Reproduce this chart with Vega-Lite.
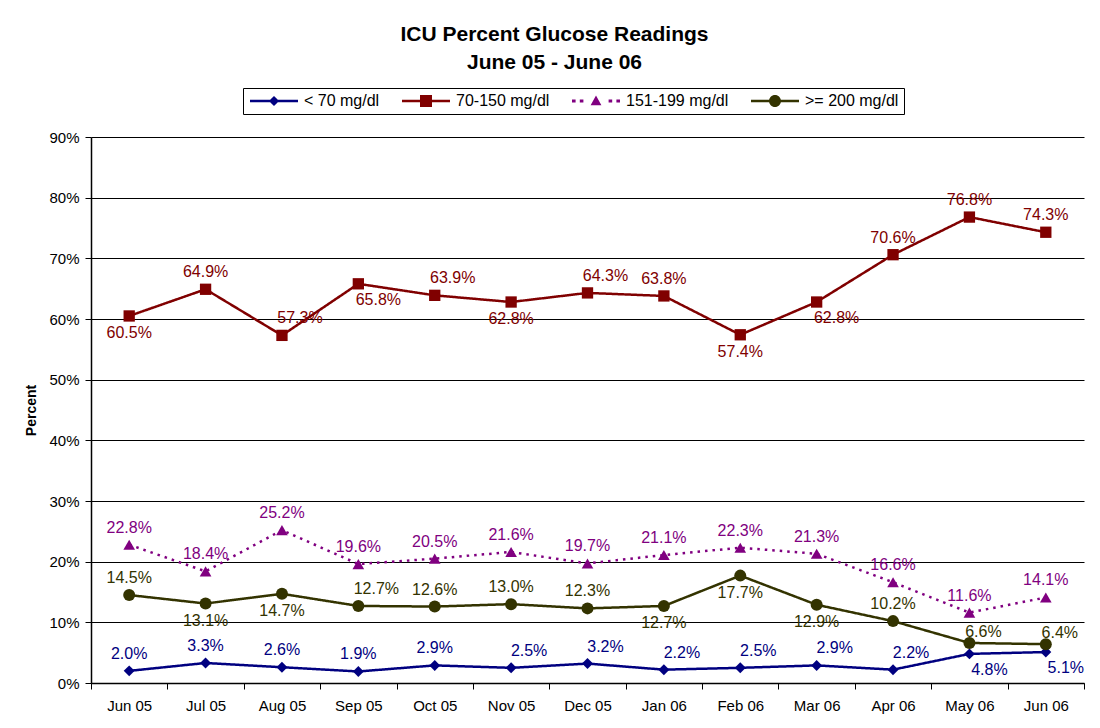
{
  "$schema": "https://vega.github.io/schema/vega-lite/v6.json",
  "width": 993,
  "height": 546,
  "autosize": {"type": "none"},
  "padding": {"left": 91, "top": 137, "right": 16, "bottom": 45},
  "background": "white",
  "title": {
    "text": ["ICU Percent Glucose Readings", "June 05 - June 06"],
    "font": "Liberation Sans",
    "fontSize": 21,
    "fontWeight": "bold",
    "lineHeight": 28,
    "anchor": "middle",
    "offset": 15,
    "dx": -33,
    "color": "black"
  },
  "config": {
    "view": {"stroke": null},
    "font": "Liberation Sans",
    "axis": {"labelFont": "Liberation Sans", "titleFont": "Liberation Sans"},
    "legend": {"labelFont": "Liberation Sans"}
  },
  "resolve": {
    "scale": {"shape": "independent"},
    "legend": {"color": "independent", "shape": "independent"}
  },
  "data": {
    "values": [
      {"month": "Jun 05", "series": "< 70 mg/dl", "value": 0.020},
      {"month": "Jul 05", "series": "< 70 mg/dl", "value": 0.033},
      {"month": "Aug 05", "series": "< 70 mg/dl", "value": 0.026},
      {"month": "Sep 05", "series": "< 70 mg/dl", "value": 0.019},
      {"month": "Oct 05", "series": "< 70 mg/dl", "value": 0.029},
      {"month": "Nov 05", "series": "< 70 mg/dl", "value": 0.025},
      {"month": "Dec 05", "series": "< 70 mg/dl", "value": 0.032},
      {"month": "Jan 06", "series": "< 70 mg/dl", "value": 0.022},
      {"month": "Feb 06", "series": "< 70 mg/dl", "value": 0.025},
      {"month": "Mar 06", "series": "< 70 mg/dl", "value": 0.029},
      {"month": "Apr 06", "series": "< 70 mg/dl", "value": 0.022},
      {"month": "May 06", "series": "< 70 mg/dl", "value": 0.048},
      {"month": "Jun 06", "series": "< 70 mg/dl", "value": 0.051},
      {"month": "Jun 05", "series": "70-150 mg/dl", "value": 0.605},
      {"month": "Jul 05", "series": "70-150 mg/dl", "value": 0.649},
      {"month": "Aug 05", "series": "70-150 mg/dl", "value": 0.573},
      {"month": "Sep 05", "series": "70-150 mg/dl", "value": 0.658},
      {"month": "Oct 05", "series": "70-150 mg/dl", "value": 0.639},
      {"month": "Nov 05", "series": "70-150 mg/dl", "value": 0.628},
      {"month": "Dec 05", "series": "70-150 mg/dl", "value": 0.643},
      {"month": "Jan 06", "series": "70-150 mg/dl", "value": 0.638},
      {"month": "Feb 06", "series": "70-150 mg/dl", "value": 0.574},
      {"month": "Mar 06", "series": "70-150 mg/dl", "value": 0.628},
      {"month": "Apr 06", "series": "70-150 mg/dl", "value": 0.706},
      {"month": "May 06", "series": "70-150 mg/dl", "value": 0.768},
      {"month": "Jun 06", "series": "70-150 mg/dl", "value": 0.743},
      {"month": "Jun 05", "series": "151-199 mg/dl", "value": 0.228},
      {"month": "Jul 05", "series": "151-199 mg/dl", "value": 0.184},
      {"month": "Aug 05", "series": "151-199 mg/dl", "value": 0.252},
      {"month": "Sep 05", "series": "151-199 mg/dl", "value": 0.196},
      {"month": "Oct 05", "series": "151-199 mg/dl", "value": 0.205},
      {"month": "Nov 05", "series": "151-199 mg/dl", "value": 0.216},
      {"month": "Dec 05", "series": "151-199 mg/dl", "value": 0.197},
      {"month": "Jan 06", "series": "151-199 mg/dl", "value": 0.211},
      {"month": "Feb 06", "series": "151-199 mg/dl", "value": 0.223},
      {"month": "Mar 06", "series": "151-199 mg/dl", "value": 0.213},
      {"month": "Apr 06", "series": "151-199 mg/dl", "value": 0.166},
      {"month": "May 06", "series": "151-199 mg/dl", "value": 0.116},
      {"month": "Jun 06", "series": "151-199 mg/dl", "value": 0.141},
      {"month": "Jun 05", "series": ">= 200 mg/dl", "value": 0.145},
      {"month": "Jul 05", "series": ">= 200 mg/dl", "value": 0.131},
      {"month": "Aug 05", "series": ">= 200 mg/dl", "value": 0.147},
      {"month": "Sep 05", "series": ">= 200 mg/dl", "value": 0.127},
      {"month": "Oct 05", "series": ">= 200 mg/dl", "value": 0.126},
      {"month": "Nov 05", "series": ">= 200 mg/dl", "value": 0.130},
      {"month": "Dec 05", "series": ">= 200 mg/dl", "value": 0.123},
      {"month": "Jan 06", "series": ">= 200 mg/dl", "value": 0.127},
      {"month": "Feb 06", "series": ">= 200 mg/dl", "value": 0.177},
      {"month": "Mar 06", "series": ">= 200 mg/dl", "value": 0.129},
      {"month": "Apr 06", "series": ">= 200 mg/dl", "value": 0.102},
      {"month": "May 06", "series": ">= 200 mg/dl", "value": 0.066},
      {"month": "Jun 06", "series": ">= 200 mg/dl", "value": 0.064}
    ]
  },
  "encoding": {
    "x": {
      "field": "month",
      "type": "ordinal",
      "sort": ["Jun 05", "Jul 05", "Aug 05", "Sep 05", "Oct 05", "Nov 05", "Dec 05", "Jan 06", "Feb 06", "Mar 06", "Apr 06", "May 06", "Jun 06"],
      "scale": {"type": "band", "paddingInner": 0, "paddingOuter": 0},
      "axis": {
        "title": null,
        "labelAngle": 0,
        "tickBand": "extent",
        "grid": false,
        "domainColor": "black",
        "domainWidth": 1.5,
        "tickColor": "black",
        "tickSize": 6,
        "labelFontSize": 15,
        "labelColor": "black",
        "labelPadding": 9
      }
    },
    "y": {
      "field": "value",
      "type": "quantitative",
      "scale": {"domain": [0, 0.9], "nice": false},
      "axis": {
        "title": "Percent",
        "format": ".0%",
        "values": [0, 0.1, 0.2, 0.3, 0.4, 0.5, 0.6, 0.7, 0.8, 0.9],
        "grid": true,
        "gridColor": "black",
        "gridOpacity": 1,
        "gridWidth": 1,
        "domainColor": "black",
        "domainWidth": 1.5,
        "tickColor": "black",
        "tickSize": 6,
        "labelFontSize": 15,
        "labelColor": "black",
        "labelPadding": 6,
        "titleFontSize": 14,
        "titleFontWeight": "bold",
        "titleColor": "black",
        "titlePadding": 10
      }
    },
    "color": {
      "field": "series",
      "type": "nominal",
      "scale": {
        "domain": ["< 70 mg/dl", "70-150 mg/dl", "151-199 mg/dl", ">= 200 mg/dl"],
        "range": ["#000080", "#800000", "#800080", "#333300"]
      },
      "legend": null
    }
  },
  "layer": [
    {
      "mark": {"type": "line", "strokeWidth": 2.5},
      "encoding": {
        "strokeDash": {
          "field": "series",
          "type": "nominal",
          "scale": {
            "domain": ["< 70 mg/dl", "70-150 mg/dl", "151-199 mg/dl", ">= 200 mg/dl"],
            "range": [[1, 0], [1, 0], [2.5, 5], [1, 0]]
          },
          "legend": null
        }
      }
    },
    {
      "mark": {"type": "point", "filled": true, "opacity": 1},
      "encoding": {
        "shape": {
          "field": "series",
          "type": "nominal",
          "scale": {
            "domain": ["< 70 mg/dl", "70-150 mg/dl", "151-199 mg/dl", ">= 200 mg/dl"],
            "range": ["diamond", "square", "triangle-up", "circle"]
          },
          "legend": null
        },
        "size": {
          "field": "series",
          "type": "nominal",
          "scale": {
            "domain": ["< 70 mg/dl", "70-150 mg/dl", "151-199 mg/dl", ">= 200 mg/dl"],
            "range": [120, 144, 80, 160]
          },
          "legend": null
        }
      }
    },
    {
      "mark": {"type": "point", "filled": true, "opacity": 0},
      "encoding": {
        "color": {
          "field": "series",
          "type": "nominal",
          "legend": {
            "orient": "none", "legendX": 152, "legendY": -49, "direction": "horizontal", "title": null,
            "strokeColor": "black", "fillColor": "white", "padding": 5,
            "symbolSize": 144, "symbolOffset": 18, "labelOffset": 22, "columnPadding": 20,
            "labelFontSize": 16, "labelColor": "black", "symbolStrokeWidth": 0, "symbolOpacity": 1
          }
        },
        "shape": {
          "field": "series",
          "type": "nominal",
          "scale": {
            "domain": ["< 70 mg/dl", "70-150 mg/dl", "151-199 mg/dl", ">= 200 mg/dl"],
            "range": [
              "M-4,-0.2L4,-0.2L4,0.2L-4,0.2Z M0,-0.85L0.85,0L0,0.85L-0.85,0Z",
              "M-4,-0.2L4,-0.2L4,0.2L-4,0.2Z M-1,-1L1,-1L1,1L-1,1Z",
              "M-4,-0.25L-3.4,-0.25L-3.4,0.25L-4,0.25Z M-2.7,-0.25L-2.1,-0.25L-2.1,0.25L-2.7,0.25Z M2.1,-0.25L2.7,-0.25L2.7,0.25L2.1,0.25Z M3.4,-0.25L4,-0.25L4,0.25L3.4,0.25Z M0,-0.9L0.9,0.7L-0.9,0.7Z",
              "M-4,-0.2L4,-0.2L4,0.2L-4,0.2Z M-1,0A1,1,0,1,1,1,0A1,1,0,1,1,-1,0Z"
            ]
          },
          "legend": {
            "orient": "none", "legendX": 152, "legendY": -49, "direction": "horizontal", "title": null,
            "strokeColor": "black", "fillColor": "white", "padding": 5,
            "symbolSize": 144, "symbolOffset": 18, "labelOffset": 22, "columnPadding": 20,
            "labelFontSize": 16, "labelColor": "black", "symbolStrokeWidth": 0, "symbolOpacity": 1
          }
        }
      }
    },
    {
      "transform": [
        {"filter": {"or": [
          {"and": [{"field": "series", "equal": "< 70 mg/dl"}, {"field": "month", "oneOf": ["Jun 05", "Jul 05", "Aug 05", "Sep 05", "Oct 05"]}]},
          {"and": [{"field": "series", "equal": "70-150 mg/dl"}, {"field": "month", "oneOf": ["Jul 05", "Jan 06", "Apr 06", "May 06", "Jun 06"]}]},
          {"field": "series", "equal": "151-199 mg/dl"},
          {"and": [{"field": "series", "equal": ">= 200 mg/dl"}, {"field": "month", "oneOf": ["Jun 05", "Oct 05", "Nov 05", "Dec 05", "Apr 06"]}]}
        ]}}
      ],
      "mark": {"type": "text", "dy": -17, "fontSize": 16, "font": "Liberation Sans"},
      "encoding": {"text": {"field": "value", "type": "quantitative", "format": ".1%"}}
    },
    {
      "transform": [
        {"filter": {"or": [
          {"and": [{"field": "series", "equal": "< 70 mg/dl"}, {"field": "month", "oneOf": ["Nov 05", "Dec 05", "Jan 06", "Feb 06", "Mar 06", "Apr 06"]}]},
          {"and": [{"field": "series", "equal": "70-150 mg/dl"}, {"field": "month", "oneOf": ["Aug 05", "Oct 05", "Dec 05"]}]},
          {"and": [{"field": "series", "equal": ">= 200 mg/dl"}, {"field": "month", "oneOf": ["Sep 05"]}]}
        ]}}
      ],
      "mark": {"type": "text", "dy": -17, "dx": 18, "fontSize": 16, "font": "Liberation Sans"},
      "encoding": {"text": {"field": "value", "type": "quantitative", "format": ".1%"}}
    },
    {
      "transform": [
        {"filter": {"and": [{"field": "series", "equal": ">= 200 mg/dl"}, {"field": "month", "oneOf": ["May 06", "Jun 06"]}]}}
      ],
      "mark": {"type": "text", "dy": -11, "dx": 14, "fontSize": 16, "font": "Liberation Sans"},
      "encoding": {"text": {"field": "value", "type": "quantitative", "format": ".1%"}}
    },
    {
      "transform": [
        {"filter": {"or": [
          {"and": [{"field": "series", "equal": "70-150 mg/dl"}, {"field": "month", "oneOf": ["Jun 05", "Nov 05", "Feb 06"]}]},
          {"and": [{"field": "series", "equal": ">= 200 mg/dl"}, {"field": "month", "oneOf": ["Jul 05", "Aug 05", "Jan 06", "Feb 06", "Mar 06"]}]}
        ]}}
      ],
      "mark": {"type": "text", "dy": 17, "fontSize": 16, "font": "Liberation Sans"},
      "encoding": {"text": {"field": "value", "type": "quantitative", "format": ".1%"}}
    },
    {
      "transform": [
        {"filter": {"or": [
          {"and": [{"field": "series", "equal": "70-150 mg/dl"}, {"field": "month", "oneOf": ["Sep 05", "Mar 06"]}]},
          {"and": [{"field": "series", "equal": "< 70 mg/dl"}, {"field": "month", "oneOf": ["May 06", "Jun 06"]}]}
        ]}}
      ],
      "mark": {"type": "text", "dy": 16, "dx": 20, "fontSize": 16, "font": "Liberation Sans"},
      "encoding": {"text": {"field": "value", "type": "quantitative", "format": ".1%"}}
    }
  ]
}
